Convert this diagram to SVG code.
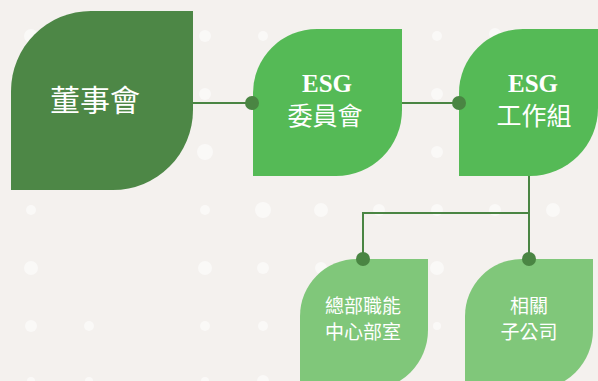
<svg xmlns="http://www.w3.org/2000/svg" width="598" height="381" viewBox="0 0 598 381">
<defs>
<style>
.bgdot{fill:#ffffff;fill-opacity:0.55}
.leaf1{fill:#4d8746}
.leaf2{fill:#55ba56}
.leaf3{fill:#80c77a}
.cjk{font-family:"Noto Sans CJK TC","Noto Sans CJK SC",sans-serif;fill:#ffffff;text-anchor:middle}
.en{font-family:"Liberation Serif",serif;font-weight:bold;fill:#ffffff;text-anchor:middle}
.wire{fill:none;stroke:#4a8543;stroke-width:2}
.dot{fill:#4a8543}
</style>
</defs>
<rect x="0" y="0" width="598" height="381" fill="#f4f1ee"/>
<g id="background-dots">
<circle class="bgdot" cx="31" cy="36" r="7"/>
<circle class="bgdot" cx="205" cy="36" r="6"/>
<circle class="bgdot" cx="263" cy="36" r="5"/>
<circle class="bgdot" cx="437" cy="36" r="5"/>
<circle class="bgdot" cx="495" cy="34" r="6"/>
<circle class="bgdot" cx="205" cy="94" r="6"/>
<circle class="bgdot" cx="437" cy="94" r="6"/>
<circle class="bgdot" cx="205" cy="152" r="8"/>
<circle class="bgdot" cx="437" cy="152" r="6"/>
<circle class="bgdot" cx="31" cy="210" r="5"/>
<circle class="bgdot" cx="205" cy="210" r="5"/>
<circle class="bgdot" cx="263" cy="210" r="8"/>
<circle class="bgdot" cx="321" cy="210" r="7"/>
<circle class="bgdot" cx="379" cy="210" r="6"/>
<circle class="bgdot" cx="437" cy="210" r="6"/>
<circle class="bgdot" cx="495" cy="210" r="6"/>
<circle class="bgdot" cx="553" cy="210" r="7"/>
<circle class="bgdot" cx="31" cy="268" r="7"/>
<circle class="bgdot" cx="205" cy="268" r="7"/>
<circle class="bgdot" cx="263" cy="268" r="6"/>
<circle class="bgdot" cx="321" cy="268" r="6"/>
<circle class="bgdot" cx="437" cy="268" r="7"/>
<circle class="bgdot" cx="31" cy="326" r="6"/>
<circle class="bgdot" cx="89" cy="326" r="5"/>
<circle class="bgdot" cx="205" cy="326" r="5"/>
<circle class="bgdot" cx="263" cy="326" r="5"/>
<circle class="bgdot" cx="437" cy="326" r="4"/>
<circle class="bgdot" cx="31" cy="381" r="4"/>
<circle class="bgdot" cx="89" cy="381" r="4"/>
<circle class="bgdot" cx="205" cy="381" r="4"/>
<circle class="bgdot" cx="263" cy="381" r="6"/>
</g>
<g id="node-board">
<path class="leaf1" d="M91 11 H193 V110 A80 80 0 0 1 113 190 H11 V91 A80 80 0 0 1 91 11 Z"/>
<text class="cjk" x="95" y="111" font-size="30">董事會</text>
</g>
<g id="node-esg-committee">
<path class="leaf2" d="M317 29 H402 V110 A66 66 0 0 1 336 176 H253 V93 A64 64 0 0 1 317 29 Z"/>
<text class="en" x="327" y="92" font-size="25">ESG</text>
<text class="cjk" x="325" y="125" font-size="25">委員會</text>
</g>
<g id="node-esg-workgroup">
<path class="leaf2" d="M523 29 H598 V108 A68 68 0 0 1 530 176 H459 V93 A64 64 0 0 1 523 29 Z"/>
<text class="en" x="533" y="92" font-size="25">ESG</text>
<text class="cjk" x="534" y="125" font-size="25">工作組</text>
</g>
<g id="node-hq">
<path class="leaf3" d="M357 259 H428 V330 A60 60 0 0 1 368 390 H300 V316 A57 57 0 0 1 357 259 Z"/>
<text class="cjk" font-size="19"><tspan x="363" y="313">總部職能</tspan><tspan x="363" y="339">中心部室</tspan></text>
</g>
<g id="node-subsidiaries">
<path class="leaf3" d="M522 259 H593 V330 A60 60 0 0 1 533 390 H465 V316 A57 57 0 0 1 522 259 Z"/>
<text class="cjk" font-size="19"><tspan x="529" y="313">相關</tspan><tspan x="529" y="339">子公司</tspan></text>
</g>
<g id="connectors">
<path class="wire" d="M193 103 H253"/>
<path class="wire" d="M402 103 H459"/>
<path class="wire" d="M529 176 V213 H363 V259 M529 213 V259"/>
<circle class="dot" cx="252" cy="103" r="7"/>
<circle class="dot" cx="459" cy="103" r="7"/>
<circle class="dot" cx="363" cy="259" r="7"/>
<circle class="dot" cx="529" cy="259" r="7"/>
</g>
</svg>
